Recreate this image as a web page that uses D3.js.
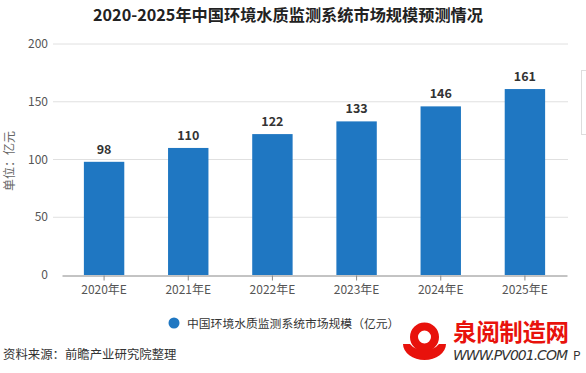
<!DOCTYPE html>
<html><head><meta charset="utf-8">
<script src="https://cdn.jsdelivr.net/npm/d3@7/dist/d3.min.js"></script>
<style>
body{margin:0;background:#fff;}
svg{display:block;font-family:"Noto Sans CJK SC","Noto Sans",sans-serif;}
</style></head>
<body><svg id="c" width="586" height="373"></svg>
<script>
const categories = ["2020年E","2021年E","2022年E","2023年E","2024年E","2025年E"];
const values = [98,110,122,133,146,161];
const yTicks = [0,50,100,150,200];
const seriesName = "中国环境水质监测系统市场规模（亿元）";
const title = "2020-2025年中国环境水质监测系统市场规模预测情况";
const yLabel = "单位：亿元";
const source = "资料来源：前瞻产业研究院整理";

const svg = d3.select("#c");
const x = d3.scaleBand().domain(categories).range([62,567]).paddingInner(0.52).paddingOuter(0.26);
const y = d3.scaleLinear().domain([0,200]).range([275,44]);
const color = "#1f77c2";

svg.append("text").attr("x",288).attr("y",20.5).attr("text-anchor","middle")
  .attr("font-size",16.2).attr("font-weight","bold").attr("fill","#222").text(title);

// grid
svg.append("g").selectAll("line").data(yTicks.filter(d=>d>0)).join("line")
  .attr("x1",53).attr("x2",568).attr("y1",d=>y(d)).attr("y2",d=>y(d))
  .attr("stroke","#e0e0e0").attr("stroke-width",1);

// y tick labels
svg.append("g").selectAll("text").data(yTicks).join("text")
  .attr("x",48).attr("y",d=>y(d)+4).attr("text-anchor","end")
  .attr("font-size",12).attr("fill","#555").text(d=>d);

svg.append("text").attr("transform","translate(14,161) rotate(-90)").attr("text-anchor","middle")
  .attr("font-size",12).attr("fill","#666").text(yLabel);

// bars
svg.append("g").selectAll("rect").data(values).join("rect")
  .attr("x",(d,i)=>x(categories[i])).attr("width",x.bandwidth())
  .attr("y",d=>y(d)).attr("height",d=>y(0)-y(d)).attr("fill",color);

svg.append("g").selectAll("text").data(values).join("text")
  .attr("x",(d,i)=>x(categories[i])+x.bandwidth()/2).attr("y",d=>y(d)-8)
  .attr("text-anchor","middle").attr("font-size",12.5).attr("font-weight","bold")
  .attr("fill","#333").text(d=>d);

// x axis
const xa = svg.append("g").attr("transform","translate(0,275.5)")
  .call(d3.axisBottom(x).tickSize(5).tickSizeOuter(0));
xa.select(".domain").attr("stroke","#888");
xa.selectAll(".tick line").attr("stroke","#888");
xa.selectAll(".tick text").attr("font-size",12).attr("fill","#555").attr("dy","0.9em")
  .attr("font-family","\"Noto Sans CJK SC\",sans-serif");

// legend
svg.append("circle").attr("cx",174).attr("cy",323).attr("r",5.5).attr("fill",color);
svg.append("text").attr("x",187).attr("y",327.5).attr("font-size",11.8).attr("fill","#333").text(seriesName);

svg.append("text").attr("x",3).attr("y",359).attr("font-size",12.4).attr("fill","#333").text(source);

// side widget box
svg.append("rect").attr("x",581.5).attr("y",70.5).attr("width",10).attr("height",64)
  .attr("fill","#fff").attr("stroke","#ddd");

// watermark logo (bottom right)
const wm = svg.append("g");
wm.append("circle").attr("cx",424.5).attr("cy",337).attr("r",10.5).attr("fill","none").attr("stroke","#e8120c").attr("stroke-width",8);
wm.append("path").attr("d","M403,344 L410,344 A16,10 0 0 0 439,344 L446,344 A21.5,16 0 0 1 403,344 Z").attr("fill","#e8120c");
wm.append("text").attr("x",453).attr("y",341).attr("font-size",23.5).attr("font-weight","bold").attr("fill","#e8120c")
  .attr("textLength",116).text("泉阅制造网");
wm.append("text").attr("x",453).attr("y",360).attr("font-size",14).attr("font-style","italic").attr("fill","#333")
  .attr("font-family","\"DejaVu Sans\",sans-serif").attr("textLength",115).text("WWW.PV001.COM");
wm.append("text").attr("x",573).attr("y",360).attr("font-size",12).attr("fill","#333").text("P");
</script></body></html>
